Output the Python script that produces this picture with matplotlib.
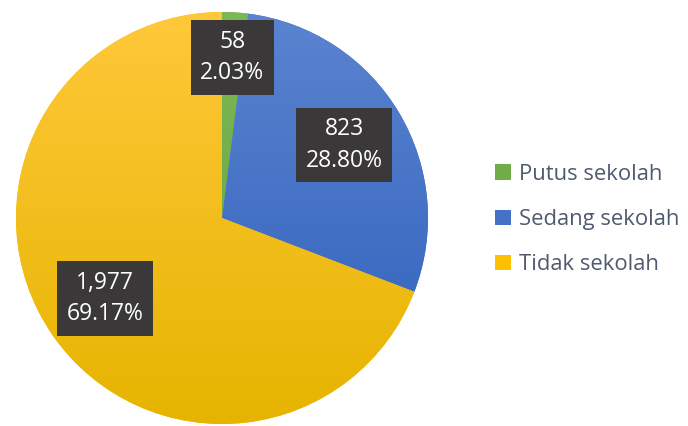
import numpy as np
import matplotlib
matplotlib.use("Agg")
import matplotlib.pyplot as plt
from matplotlib.colors import LinearSegmentedColormap

labels = ["Putus sekolah", "Sedang sekolah", "Tidak sekolah"]
counts = [58, 823, 1977]
count_txt = ["58", "823", "1,977"]
pct_txt = ["2.03%", "28.80%", "69.17%"]

base = ["#70AD47", "#4472C4", "#FFC000"]
tops = ["#7DB857", "#5B84D0", "#FFC83A"]
bottoms = ["#62A23A", "#2D5FBB", "#E6B400"]
label_dist = [0.78, 0.69, 0.69]

plt.rcParams['font.family'] = ['Open Sans', 'DejaVu Sans']

fig = plt.figure(figsize=(6.88, 4.26), dpi=100)
ax = fig.add_axes([0, 0, 1, 1])

cx, cy, r = 222, 208, 206
wedges, _ = ax.pie(counts, colors=base, startangle=90, counterclock=False,
                   center=(cx, cy), radius=r, frame=True,
                   wedgeprops=dict(linewidth=0))

# vertical gradient fill, clipped to each slice
grad = np.linspace(1, 0, 256).reshape(-1, 1)
for w, t, b in zip(wedges, tops, bottoms):
    cm = LinearSegmentedColormap.from_list("g", [b, t])
    im = ax.imshow(grad, cmap=cm, extent=(cx - r, cx + r, cy - r, cy + r),
                   aspect='auto', origin='upper', zorder=2)
    im.set_clip_path(w)

for w, c, p, d in zip(wedges, count_txt, pct_txt, label_dist):
    ang = np.deg2rad((w.theta1 + w.theta2) / 2)
    x = cx + d * r * np.cos(ang)
    y = cy + d * r * np.sin(ang)
    ax.text(x, y, c + "\n" + p, ha='center', va='center', color='white',
            fontsize=16.5, linespacing=1.4, zorder=5,
            bbox=dict(boxstyle='square,pad=0.42', fc='#3A3838', ec='none'))

ax.set_xlim(0, 688)
ax.set_ylim(0, 426)
ax.set_aspect('equal')
ax.axis('off')
ax.legend(wedges, labels, loc='center left', bbox_to_anchor=(0.691, 0.485),
          frameon=False, fontsize=15.8, handlelength=0.7, handleheight=0.7,
          handletextpad=0.4, labelspacing=1.1, labelcolor='#4E5A6E')

fig.savefig("out.png", dpi=100)
